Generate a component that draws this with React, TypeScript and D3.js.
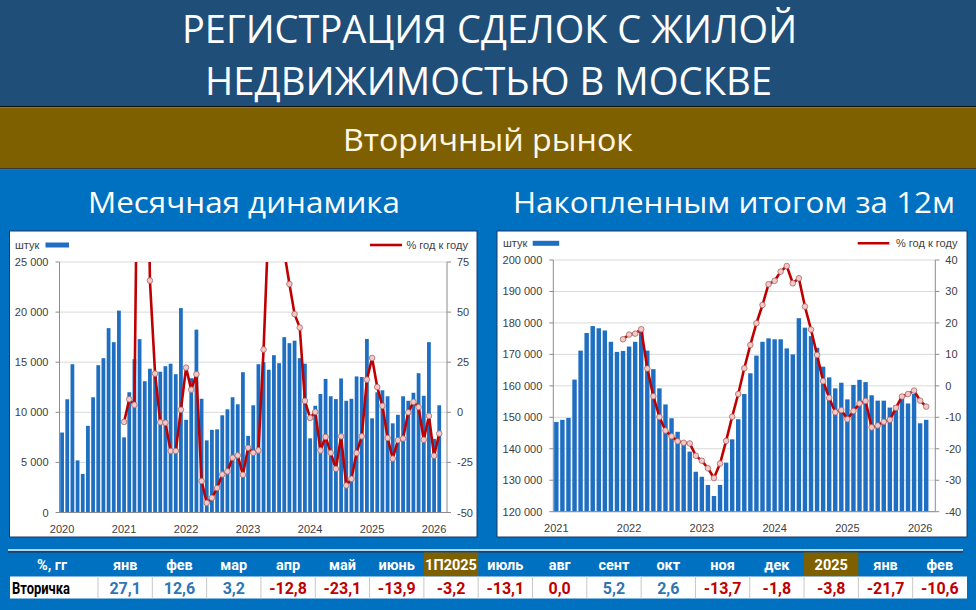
import React from 'react';
import * as d3 from 'd3';

const W = 976;
const H = 610;

// ---- data -----------------------------------------------------------------

// Monthly registrations, Jan 2020 .. Feb 2026 (units)
const monthlyDeals = [
  7980, 11300, 14800, 5200, 3850, 8650, 11500, 14700, 15400, 18400, 17000, 20150,
  7500, 12000, 15300, 17300, 13100, 14350, 13700, 14050, 14600, 14850, 13800, 20400,
  9250, 13400, 18250, 11350, 7200, 8250, 8300, 9700, 10300, 11500, 10800, 14000,
  7650, 10700, 14800, 15000, 14250, 15700, 14900, 17500, 16900, 17150, 15400, 14850,
  7400, 10650, 11830, 13330, 11600, 11320, 13380, 11150, 11350, 13580, 13520, 17320,
  9400, 12000, 12200, 11600, 8900, 9750, 11600, 11150, 11950, 13900, 11650, 17000,
  7350, 10700,
];

// Monthly % y/y, Jan 2021 .. Feb 2026
const monthlyYoY = [
  -4.8, 6.5, 3.7, 233, 240, 65.7, 19.3, -5.0, -5.2, -19.3, -19.3, 1.3,
  22.3, 11.3, 19.0, -34.3, -45.2, -42.7, -37.8, -31.0, -29.5, -22.7, -21.5, -31.2,
  -17.7, -20.2, -19.0, 31.3, 98, 90, 80, 80, 64, 49, 42.3, 5.7,
  -2.8, 0.2, -19.0, -12.3, -20.2, -28.2, -12.0, -36.5, -33.2, -20.3, -12.0, 16.3,
  27.1, 12.6, 3.2, -12.8, -23.1, -13.9, -13.1, 0.0, 5.2, 2.6, -13.7, -1.8,
  -21.7, -10.6,
];

// Rolling 12-month total, Jan 2021 .. Feb 2026 (units)
const rollingDeals = [
  148500, 149200, 149800, 162000, 171200, 176800, 179000, 178300, 177600, 174000, 170800, 171100,
  172500, 174000, 178000, 171200, 165300, 159200, 154100, 149700, 145400, 142200, 139100, 132700,
  131100, 128500, 125000, 128500, 135600, 143000, 149400, 157400, 164000, 169600, 174000, 175100,
  174800, 174800, 171900, 170000, 181500, 178500, 175800, 172100, 166100, 162700, 159200, 161000,
  155700, 160300, 161900, 161200, 157000, 155300, 155300, 153100, 153900, 156600, 154400, 157400,
  148100, 149200,
];

// Rolling 12-month % y/y, Dec 2021 .. Feb 2026
const rollingYoY = [
  14.8,
  16.3, 16.6, 18.0, 5.5, -3.3, -9.9, -14.2, -16.0, -17.6, -18.1, -18.3, -22.2,
  -23.8, -26.2, -29.3, -24.7, -17.5, -9.8, -2.6, 5.6, 13.0, 19.9, 25.7, 32.3,
  33.4, 36.3, 38.1, 32.6, 34.2, 25.2, 17.9, 9.8, 1.5, -3.8, -8.4, -7.7,
  -10.6, -8.0, -5.6, -4.8, -13.2, -12.6, -11.4, -10.8, -7.0, -3.4, -2.6, -1.5,
  -4.7, -6.6,
];

const monthlyYears = ['2020', '2021', '2022', '2023', '2024', '2025', '2026'];
const rollingYears = ['2021', '2022', '2023', '2024', '2025', '2026'];

const monthlyLeftTicks = [0, 5000, 10000, 15000, 20000, 25000];
const monthlyRightTicks = [-50, -25, 0, 25, 50, 75];
const rollingLeftTicks = [120000, 130000, 140000, 150000, 160000, 170000, 180000, 190000, 200000];
const rollingRightTicks = [-40, -30, -20, -10, 0, 10, 20, 30, 40];

const tableHeaders = ['янв', 'фев', 'мар', 'апр', 'май', 'июнь', '1П2025', 'июль', 'авг', 'сент', 'окт', 'ноя', 'дек', '2025', 'янв', 'фев'];
const tableValues = [27.1, 12.6, 3.2, -12.8, -23.1, -13.9, -3.2, -13.1, 0.0, 5.2, 2.6, -13.7, -1.8, -3.8, -21.7, -10.6];
const tableHighlights = ['1П2025', '2025'];

// ---- styling --------------------------------------------------------------

const C = {
  titleBand: '#1f4e79',
  olive: '#7f6000',
  blue: '#0070c0',
  bar: '#1e6fc1',
  line: '#c00000',
  markerFill: '#f3c8c8',
  markerStroke: '#a56a6a',
  grid: '#d9d9d9',
  axis: '#8c8c8c',
  text: '#404040',
  pos: '#2e75b6',
  neg: '#c00000',
};

const HEAD_FONT = '"Open Sans", "Noto Sans", sans-serif';
const CHART_FONT = '"Liberation Sans", Arial, sans-serif';
const TABLE_FONT = 'Roboto, "Noto Sans", sans-serif';

const ru = d3.formatLocale({ decimal: ',', thousands: '\u00a0', grouping: [3], currency: ['', ''], minus: '-' });
const fmtInt = ru.format(',d');
const fmtPct = ru.format('.1f');

// ---- chart ----------------------------------------------------------------

interface ComboProps {
  id: string;
  box: { x: number; y: number; w: number; h: number };
  plot: { x0: number; x1: number; y0: number; y1: number };
  bandCount: number;
  bars: number[];
  line: number[];
  lineStart: number;
  leftDomain: [number, number];
  rightDomain: [number, number];
  leftTicks: number[];
  rightTicks: number[];
  years: string[];
  legend: { labelX: number; rectX: number; rectW: number; y: number; lineX0: number; lineX1: number; lineLabelX: number };
}

const ComboChart: React.FC<ComboProps> = ({
  id, box, plot, bandCount, bars, line, lineStart, leftDomain, rightDomain, leftTicks, rightTicks, years, legend,
}) => {
  const x = d3.scaleBand<number>()
    .domain(d3.range(bandCount))
    .range([plot.x0, plot.x1])
    .paddingInner(0.27)
    .paddingOuter(0.135);
  const yL = d3.scaleLinear().domain(leftDomain).range([plot.y1, plot.y0]);
  const yR = d3.scaleLinear().domain(rightDomain).range([plot.y1, plot.y0]);
  const cx = (i: number) => (x(i) ?? 0) + x.bandwidth() / 2;

  const pts: [number, number][] = line.map((v, k) => [cx(lineStart + k), yR(v)]);
  const path = d3.line()(pts) ?? '';

  return (
    <g>
      <defs>
        <clipPath id={`clip-${id}`}>
          <rect x={plot.x0} y={plot.y0} width={plot.x1 - plot.x0} height={plot.y1 - plot.y0} />
        </clipPath>
      </defs>
      <rect x={box.x} y={box.y} width={box.w} height={box.h} fill="#fff" stroke="#1f3864" strokeWidth={1} />

      {/* grid */}
      {leftTicks.map(t => (
        <line key={`g${t}`} x1={plot.x0} x2={plot.x1} y1={yL(t)} y2={yL(t)} stroke={C.grid} strokeWidth={1} />
      ))}

      {/* bars */}
      {bars.map((v, i) => (
        <rect key={`b${i}`} x={x(i)} y={yL(v)} width={x.bandwidth()} height={plot.y1 - yL(v)} fill={C.bar} />
      ))}

      {/* axes */}
      <line x1={plot.x0} x2={plot.x0} y1={plot.y0} y2={plot.y1} stroke={C.axis} />
      <line x1={plot.x1} x2={plot.x1} y1={plot.y0} y2={plot.y1} stroke={C.axis} />
      <line x1={plot.x0} x2={plot.x1} y1={plot.y1} y2={plot.y1} stroke={C.axis} />
      {leftTicks.map(t => (
        <g key={`l${t}`}>
          <line x1={plot.x0 - 4} x2={plot.x0} y1={yL(t)} y2={yL(t)} stroke={C.axis} />
          <text x={plot.x0 - 11} y={yL(t) + 4} textAnchor="end" fontSize={11} fill={C.text} fontFamily={CHART_FONT}>
            {fmtInt(t)}
          </text>
        </g>
      ))}
      {rightTicks.map(t => (
        <g key={`r${t}`}>
          <line x1={plot.x1} x2={plot.x1 + 4} y1={yR(t)} y2={yR(t)} stroke={C.axis} />
          <text x={plot.x1 + 10} y={yR(t) + 4} textAnchor="start" fontSize={11} fill={C.text} fontFamily={CHART_FONT}>
            {fmtInt(t)}
          </text>
        </g>
      ))}
      {years.map((yr, k) => (
        <text key={yr} x={cx(k * 12)} y={plot.y1 + 20} textAnchor="middle" fontSize={11} fill={C.text} fontFamily={CHART_FONT}>
          {yr}
        </text>
      ))}

      {/* y/y line */}
      <g clipPath={`url(#clip-${id})`}>
        <path d={path} fill="none" stroke={C.line} strokeWidth={2.6} strokeLinejoin="round" />
        {pts.map(([px, py], k) => (
          <circle key={`m${k}`} cx={px} cy={py} r={2.8} fill={C.markerFill} stroke={C.markerStroke} strokeWidth={0.8} />
        ))}
      </g>

      {/* legend */}
      <text x={legend.labelX} y={legend.y + 4} fontSize={11} fill={C.text} fontFamily={CHART_FONT}>штук</text>
      <rect x={legend.rectX} y={legend.y - 2.5} width={legend.rectW} height={5} fill={C.bar} />
      <line x1={legend.lineX0} x2={legend.lineX1} y1={legend.y} y2={legend.y} stroke={C.line} strokeWidth={2.6} />
      <text x={legend.lineLabelX} y={legend.y + 4} fontSize={11} fill={C.text} fontFamily={CHART_FONT}>% год к году</text>
    </g>
  );
};

// ---- table ----------------------------------------------------------------

const YoYTable: React.FC = () => {
  const col = d3.scaleBand<number>().domain(d3.range(tableHeaders.length)).range([98, 967]);
  const headTop = 552.5;
  const rowTop = 576.5;
  const rowBottom = 598.5;
  return (
    <g fontFamily={TABLE_FONT} fontWeight="bold">
      <rect x={8} y={549.3} width={955} height={1.4} fill="#ffffff" />
      <rect x={8} y={551.2} width={955} height={1.4} fill="#1f3864" />
      {tableHeaders.map((h, i) =>
        tableHighlights.includes(h) ? (
          <rect key={`hl${i}`} x={col(i)} y={headTop} width={col.bandwidth()} height={rowTop - headTop} fill={C.olive} />
        ) : null,
      )}
      <text x={52} y={569.5} textAnchor="middle" fontSize={14.5} fill="#fff">%, гг</text>
      {tableHeaders.map((h, i) => (
        <text key={`h${i}`} x={(col(i) ?? 0) + col.bandwidth() / 2} y={569.5} textAnchor="middle" fontSize={14.5} fill="#fff">
          {h}
        </text>
      ))}
      <rect x={10} y={rowTop} width={957} height={rowBottom - rowTop} fill="#fff" />
      {tableHeaders.map((_, i) => (
        <line key={`s${i}`} x1={col(i)} x2={col(i)} y1={rowTop} y2={rowBottom} stroke="#c8c8c8" />
      ))}
      <text x={12} y={593.5} fontSize={16} fill="#000" textLength={58} lengthAdjust="spacingAndGlyphs">Вторичка</text>
      {tableValues.map((v, i) => (
        <text key={`v${i}`} x={(col(i) ?? 0) + col.bandwidth() / 2} y={594} textAnchor="middle" fontSize={16}
          fill={v > 0 ? C.pos : C.neg}>
          {fmtPct(v)}
        </text>
      ))}
    </g>
  );
};

// ---- page -----------------------------------------------------------------

const App: React.FC = () => {
  return (
    <div style={{ position: 'absolute', left: 0, top: 0, width: W, height: H }}>
      <svg width={W} height={H} viewBox={`0 0 ${W} ${H}`} style={{ display: 'block' }}>
        {/* bands */}
        <rect x={0} y={0} width={W} height={106} fill={C.titleBand} />
        <rect x={0} y={106} width={W} height={1.2} fill="#111" />
        <rect x={0} y={107.2} width={W} height={61} fill={C.olive} />
        <rect x={0} y={168.2} width={W} height={1.4} fill="#111" />
        <rect x={0} y={169.6} width={W} height={H - 169.6} fill={C.blue} />

        {/* headings */}
        <g fontFamily={HEAD_FONT} fill="#fff" textAnchor="middle">
          <text x={489.5} y={43} fontSize={39} textLength={615} lengthAdjust="spacingAndGlyphs">РЕГИСТРАЦИЯ СДЕЛОК С ЖИЛОЙ</text>
          <text x={488.5} y={94.5} fontSize={39} textLength={567} lengthAdjust="spacingAndGlyphs">НЕДВИЖИМОСТЬЮ В МОСКВЕ</text>
          <text x={488} y={150.7} fontSize={31} fill="#fff8e6" textLength={290} lengthAdjust="spacingAndGlyphs">Вторичный рынок</text>
          <text x={244} y={212.5} fontSize={29} textLength={312} lengthAdjust="spacingAndGlyphs">Месячная динамика</text>
          <text x={734} y={212.5} fontSize={29} textLength={442} lengthAdjust="spacingAndGlyphs">Накопленным итогом за 12м</text>
        </g>

        <ComboChart
          id="monthly"
          box={{ x: 9.5, y: 231, w: 467.5, h: 306 }}
          plot={{ x0: 59.5, x1: 447, y0: 262, y1: 512.5 }}
          bandCount={75}
          bars={monthlyDeals}
          line={monthlyYoY}
          lineStart={12}
          leftDomain={[0, 25000]}
          rightDomain={[-50, 75]}
          leftTicks={monthlyLeftTicks}
          rightTicks={monthlyRightTicks}
          years={monthlyYears}
          legend={{ labelX: 15, rectX: 45.5, rectW: 23.5, y: 245, lineX0: 370, lineX1: 402, lineLabelX: 406.5 }}
        />
        <ComboChart
          id="rolling"
          box={{ x: 497, y: 231, w: 470, h: 306 }}
          plot={{ x0: 553.3, x1: 935.3, y0: 260, y1: 511.7 }}
          bandCount={63}
          bars={rollingDeals}
          line={rollingYoY}
          lineStart={11}
          leftDomain={[120000, 200000]}
          rightDomain={[-40, 40]}
          leftTicks={rollingLeftTicks}
          rightTicks={rollingRightTicks}
          years={rollingYears}
          legend={{ labelX: 503, rectX: 532.7, rectW: 26.5, y: 243.3, lineX0: 857.7, lineX1: 889.3, lineLabelX: 896 }}
        />

        <YoYTable />
      </svg>
    </div>
  );
};

export default App;
